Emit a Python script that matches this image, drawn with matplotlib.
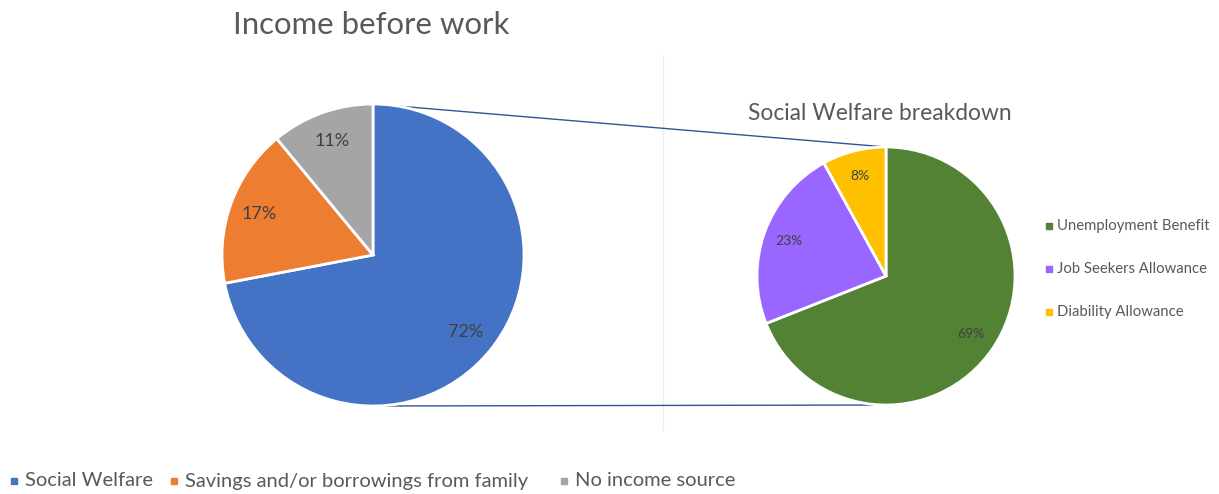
import matplotlib
matplotlib.use("Agg")
import matplotlib.pyplot as plt

plt.rcParams['font.family'] = ['Lato', 'DejaVu Sans']

# Income sources before work
income_labels = ["Social Welfare", "Savings and/or borrowings from family", "No income source"]
income_values = [72, 17, 11]
income_colors = ["#4472C4", "#ED7D31", "#A5A5A5"]

# Breakdown of the social welfare share
welfare_labels = ["Unemployment Benefit", "Job Seekers Allowance", "Diability Allowance"]
welfare_values = [69, 23, 8]
welfare_colors = ["#548235", "#9966FF", "#FFC000"]

W, H = 1219, 494
fig = plt.figure(figsize=(W / 100, H / 100), dpi=100)
ax = fig.add_axes([0, 0, 1, 1])

def Y(y):
    return H - y

left_c, left_r = (373, Y(255)), 151
right_c, right_r = (886, Y(276)), 129

wp = dict(edgecolor="white", linewidth=2)
ax.pie(income_values, colors=income_colors, startangle=90, counterclock=False,
       center=left_c, radius=left_r, autopct="%d%%", pctdistance=0.8,
       wedgeprops=wp, frame=True,
       textprops=dict(fontsize=13, color="#404040"))
ax.pie(welfare_values, colors=welfare_colors, startangle=90, counterclock=False,
       center=right_c, radius=right_r, autopct="%d%%", pctdistance=0.8,
       wedgeprops=wp, frame=True,
       textprops=dict(fontsize=10, color="#404040"))

# connector lines between the two pies
lc = "#2F5597"
ax.plot([left_c[0], right_c[0]], [left_c[1] + left_r, right_c[1] + right_r], color=lc, lw=1, zorder=0)
ax.plot([left_c[0], right_c[0]], [left_c[1] - left_r, right_c[1] - right_r], color=lc, lw=1, zorder=0)

# faint divider
ax.plot([663, 663], [Y(55), Y(430)], color="#EDEDED", lw=1, zorder=-1)

ax.text(233, Y(25), "Income before work", fontsize=22.4, color="#595959", va="center", ha="left")
ax.text(748, Y(114), "Social Welfare breakdown", fontsize=16.4, color="#595959", va="center", ha="left")

# bottom legend
for x, lab, col in zip([14, 174, 564], income_labels, income_colors):
    ax.plot([x], [Y(481)], marker="s", ms=5, color=col, ls="none")
    ax.text(x + 11, Y(481), lab, fontsize=14.5, color="#595959", va="center", ha="left")

# side legend
for y, lab, col in zip([226, 269, 312], welfare_labels, welfare_colors):
    ax.plot([1049], [Y(y)], marker="s", ms=4, color=col, ls="none")
    ax.text(1057, Y(y), lab, fontsize=10.7, color="#595959", va="center", ha="left")

ax.set_xlim(0, W)
ax.set_ylim(0, H)
ax.set_aspect("equal")
ax.axis("off")

fig.savefig("out.png", dpi=100)
